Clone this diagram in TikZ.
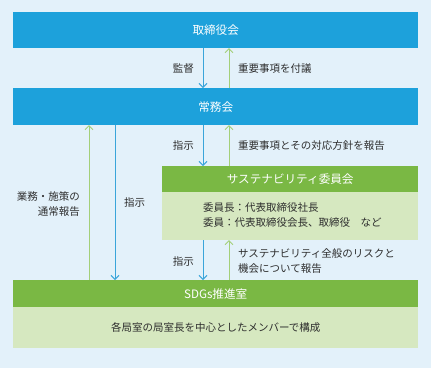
\documentclass[tikz,border=0pt]{standalone}
\usepackage{fontspec}
\setmainfont{Noto Sans CJK JP}
\usetikzlibrary{arrows.meta}
\definecolor{bg}{HTML}{E3F1FA}
\definecolor{bluebox}{HTML}{1DA1DB}
\definecolor{bluearr}{HTML}{3AA5DA}
\definecolor{greenarr}{HTML}{A3CF78}
\definecolor{greenhead}{HTML}{7AB844}
\definecolor{greenbody}{HTML}{D6E8C0}
\definecolor{txt}{HTML}{2E2E2E}
\tikzset{
  bluehdr/.style={fill=bluebox, draw=none, text=white, font=\fontsize{11.6}{13}\selectfont, inner sep=0pt},
  greenhdr/.style={fill=greenhead, draw=none, text=white, font=\fontsize{11.6}{13}\selectfont, inner sep=0pt},
  greenbd/.style={fill=greenbody, draw=none, inner sep=0pt},
  lbl/.style={text=txt, font=\fontsize{10.5}{14.5}\selectfont, inner sep=0pt},
  downarr/.style={draw=bluearr, line width=1pt, -{Straight Barb[length=4pt,width=8pt]}},
  uparr/.style={draw=greenarr, line width=1pt, -{Straight Barb[length=4pt,width=8pt]}},
}
\begin{document}
\begin{tikzpicture}[x=1pt,y=-1pt]
\fill[bg] (0,0) rectangle (431,368);
\useasboundingbox (0,0) rectangle (431,368);
% boxes
\node[bluehdr, minimum width=405pt, minimum height=36pt, anchor=north west] (board) at (13,12) {取締役会};
\node[bluehdr, minimum width=405pt, minimum height=37pt, anchor=north west] (exec) at (13,88) {常務会};
\node[greenhdr, minimum width=256pt, minimum height=26pt, anchor=north west] (susth) at (162,166) {サステナビリティ委員会};
\node[greenbd, minimum width=256pt, minimum height=48pt, anchor=north west] (sustb) at (162,192) {};
\node[greenhdr, minimum width=405pt, minimum height=27pt, anchor=north west] (sdgh) at (13,280) {SDGs推進室};
\node[greenbd, minimum width=405pt, minimum height=41pt, anchor=north west] (sdgb) at (13,307) {};
% body texts
\node[lbl, anchor=west, align=left] (member1) at (203,208) {委員長：代表取締役社長};
\node[lbl, anchor=west, align=left] (member2) at (203,223) {委員：代表取締役会長、取締役　など};
\node[lbl] (sdgtext) at (sdgb.center) {各局室の局室長を中心としたメンバーで構成};
% coordinates for arrows
\coordinate (b1) at (203,48); \coordinate (e1) at (203,88);
\coordinate (b2) at (229,48); \coordinate (e2) at (229,88);
\coordinate (e3) at (203,125); \coordinate (s3) at (203,166);
\coordinate (e4) at (229,125); \coordinate (s4) at (229,166);
\coordinate (s5) at (203,240); \coordinate (d5) at (203,280);
\coordinate (s6) at (229,240); \coordinate (d6) at (229,280);
\coordinate (e7) at (89,125); \coordinate (d7) at (89,280);
\coordinate (e8) at (115,125); \coordinate (d8) at (115,280);
\draw[downarr] (b1) -- (e1);
\draw[uparr] (e2) -- (b2);
\draw[downarr] (e3) -- (s3);
\draw[uparr] (s4) -- (e4);
\draw[downarr] (s5) -- (d5);
\draw[uparr] (d6) -- (s6);
\draw[uparr] (d7) -- (e7);
\draw[downarr] (e8) -- (d8);
% labels
\node[lbl, anchor=east] (l1) at (194,69) {監督};
\node[lbl, anchor=west] (l2) at (238,69) {重要事項を付議};
\node[lbl, anchor=east] (l3) at (194,146) {指示};
\node[lbl, anchor=west] (l4) at (238,146) {重要事項とその対応方針を報告};
\node[lbl, anchor=east] (l5) at (194,262) {指示};
\node[lbl, anchor=west, align=left] (l6) at (238,261) {サステナビリティ全般のリスクと\\機会について報告};
\node[lbl, anchor=east, align=right] (l7) at (80,204) {業務・施策の\\通常報告};
\node[lbl, anchor=west] (l8) at (124,203) {指示};
\end{tikzpicture}
\end{document}
